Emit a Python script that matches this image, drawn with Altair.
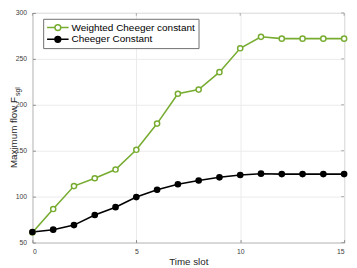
import altair as alt
import pandas as pd

# data
time_slot = list(range(16))
weighted = [61, 86.5, 111.5, 120, 129.5, 151, 179.5, 212, 216.5, 235.5, 261.5, 274, 272, 272, 272, 272]
cheeger = [61.5, 64, 69, 80, 88.5, 99.5, 107.5, 113.5, 117.5, 121, 123.5, 125, 124.5, 124.5, 124.5, 124.5]
series_names = ["Weighted Cheeger constant", "Cheeger Constant"]
stroke_colors = ["#77AC30", "#000000"]
fill_colors = ["#ffffff", "#000000"]
x_ticks = [0, 5, 10, 15]
y_ticks = [50, 100, 150, 200, 250, 300]

rows = []
for i, t in enumerate(time_slot):
    rows.append({"t": t, "v": weighted[i], "s": series_names[0]})
for i, t in enumerate(time_slot):
    rows.append({"t": t, "v": cheeger[i], "s": series_names[1]})
df = pd.DataFrame(rows)
xt_df = pd.DataFrame({"t": x_ticks})
yt_df = pd.DataFrame({"v": y_ticks})

FONT = "Liberation Sans"
AX = "#8a8a8a"
W, H = 319, 235

x_scale = alt.Scale(domain=[0, 15], nice=False)
y_scale = alt.Scale(domain=[50, 300], nice=False)

x_enc = alt.X("t:Q", scale=x_scale,
              axis=alt.Axis(values=x_ticks, title="Time slot", format="d",
                            offset=-3, tickSize=3, domain=False, labelPadding=5))
y_enc = alt.Y("v:Q", scale=y_scale,
              axis=alt.Axis(values=y_ticks, title=None, format="d",
                            offset=-3, tickSize=3, domain=False, labelPadding=6))

stroke_scale = alt.Scale(domain=series_names, range=stroke_colors)
fill_scale = alt.Scale(domain=series_names, range=fill_colors)

legend_path = "M-2.2,0H-0.6M0.6,0H2.2M0.6,0A0.6,0.6 0 1,1 -0.6,0A0.6,0.6 0 1,1 0.6,0Z"


def make_legend():
    return alt.Legend(title=None, orient="none", legendX=11, legendY=6,
                      symbolType=legend_path, symbolSize=100,
                      symbolStrokeWidth=1.5, symbolOffset=6,
                      labelOffset=8, labelFontSize=10.2, labelFont=FONT,
                      labelColor="#000000", padding=3, rowPadding=-1,
                      strokeColor="#6e6e6e", fillColor="#ffffff",
                      labelLimit=300)


lines = alt.Chart(df).mark_line(strokeWidth=1.6).encode(
    x=x_enc, y=y_enc,
    stroke=alt.Stroke("s:N", scale=stroke_scale, legend=make_legend()),
    order="t:Q",
)

points = alt.Chart(df).mark_point(filled=True, size=28, strokeWidth=1.5, opacity=1).encode(
    x=x_enc, y=y_enc,
    stroke=alt.Stroke("s:N", scale=stroke_scale, legend=make_legend()),
    fill=alt.Fill("s:N", scale=fill_scale, legend=make_legend()),
)

# inward tick marks on the top and right edges of the box
top_ticks = alt.Chart(xt_df).mark_tick(orient="vertical", size=3, thickness=1, color=AX).encode(
    x=alt.X("t:Q", scale=x_scale), y=alt.value(1.5))
right_ticks = alt.Chart(yt_df).mark_tick(orient="horizontal", size=3, thickness=1, color=AX).encode(
    y=alt.Y("v:Q", scale=y_scale), x=alt.value(W - 1.5))

title_df = pd.DataFrame({"txt": ["Maximum flow F"]})
sub_df = pd.DataFrame({"txt": ["sgl"]})

ytitle = alt.Chart(title_df).mark_text(angle=270, align="right", baseline="middle",
                                       fontSize=10, font=FONT, color="#262626").encode(
    x=alt.value(-19), y=alt.value(86), text="txt:N")
ysub = alt.Chart(sub_df).mark_text(angle=270, align="left", baseline="middle",
                                   fontSize=7, font=FONT, color="#262626").encode(
    x=alt.value(-14.5), y=alt.value(85), text="txt:N")

chart = alt.layer(lines, points, top_ticks, right_ticks, ytitle, ysub).properties(
    width=W, height=H,
    autosize=alt.AutoSizeParams(type="none"),
    padding={"left": 25, "top": 2, "right": 5, "bottom": 23},
).configure_view(
    stroke=AX, strokeWidth=1
).configure_axis(
    grid=True, gridColor="#ebebeb", gridWidth=1,
    tickColor=AX, tickWidth=1,
    labelFont=FONT, labelFontSize=7, labelColor="#404040",
    titleFont=FONT, titleFontSize=10, titleColor="#262626", titleFontWeight="normal",
    titlePadding=2,
)

chart.save("out.html", embed_options={"renderer": "svg", "actions": False})
